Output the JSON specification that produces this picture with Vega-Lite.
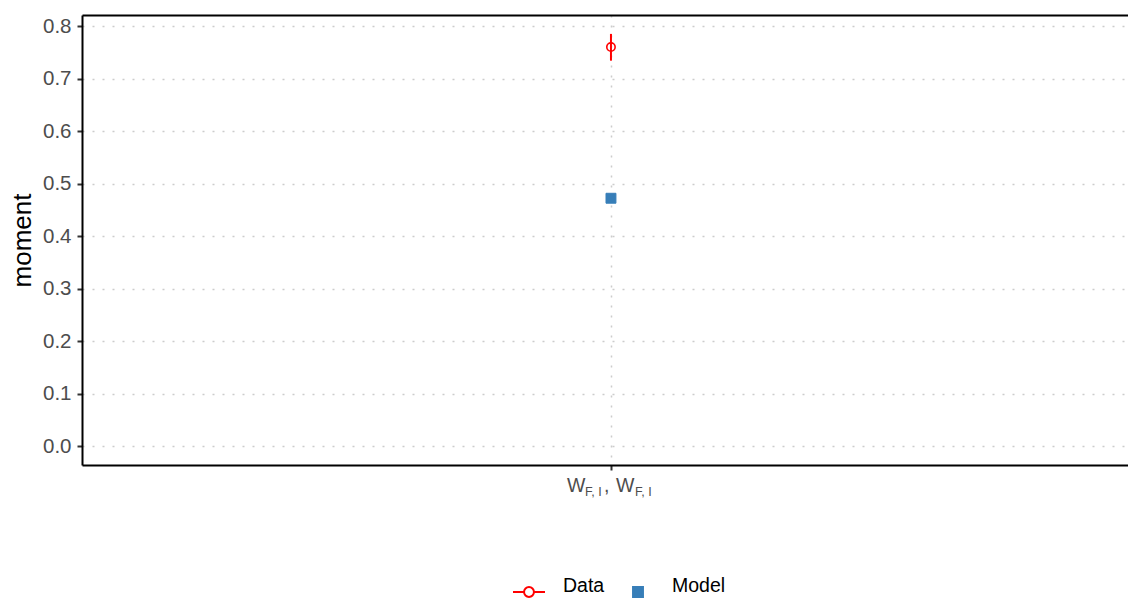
{
  "$schema": "https://vega.github.io/schema/vega-lite/v6.json",
  "width": 1046,
  "height": 450,
  "autosize": {"type": "none"},
  "padding": {"left": 82, "top": 15, "right": 0, "bottom": 136},
  "background": "white",
  "config": {
    "font": "Liberation Sans",
    "view": {"stroke": null},
    "axis": {
      "domainColor": "black",
      "domainWidth": 2,
      "tickColor": "#333333",
      "tickWidth": 2,
      "tickSize": 5,
      "labelFont": "Liberation Sans",
      "labelFontSize": 20.5,
      "labelColor": "#4d4d4d",
      "labelPadding": 6,
      "titleFont": "Liberation Sans",
      "titleFontSize": 26,
      "titleFontWeight": "normal",
      "titleColor": "black",
      "titlePadding": 7,
      "grid": true,
      "gridColor": "#cccccc",
      "gridWidth": 1.5,
      "gridDash": [2, 8]
    },
    "axisTop": {"labels": false, "ticks": false, "grid": false, "title": null}
  },
  "data": {
    "values": [
      {"moment": "W_FI_W_FI", "series": "Data", "value": 0.76, "lo": 0.734, "hi": 0.785},
      {"moment": "W_FI_W_FI", "series": "Model", "value": 0.472}
    ]
  },
  "layer": [
    {
      "encoding": {
        "x": {
          "field": "moment",
          "type": "nominal",
          "scale": {"type": "point", "align": 0.5057},
          "axis": {"orient": "bottom", "labels": false, "title": null}
        }
      },
      "layer": [
        {
          "transform": [{"filter": "datum.series === 'Data'"}],
          "mark": {"type": "rule", "color": "red", "strokeWidth": 2},
          "encoding": {
            "y": {
              "field": "lo",
              "type": "quantitative",
              "scale": {"domain": [-0.036, 0.821], "nice": false, "zero": false},
              "axis": {"title": "moment", "values": [0, 0.1, 0.2, 0.3, 0.4, 0.5, 0.6, 0.7, 0.8], "format": ".1f"}
            },
            "y2": {"field": "hi"}
          }
        },
        {
          "transform": [{"filter": "datum.series === 'Data'"}],
          "mark": {"type": "point", "shape": "circle", "filled": false, "color": "red", "strokeWidth": 1.6, "size": 70, "opacity": 1},
          "encoding": {
            "y": {"field": "value", "type": "quantitative"}
          }
        },
        {
          "transform": [{"filter": "datum.series === 'Model'"}],
          "mark": {"type": "point", "strokeWidth": 1, "size": 1024, "opacity": 1},
          "encoding": {
            "y": {"field": "value", "type": "quantitative"},
            "shape": {
              "field": "series",
              "type": "nominal",
              "scale": {
                "domain": ["Data", "Model"],
                "range": [
                  "M-1,0H-0.31M0.31,0H1M-0.31,0A0.31,0.31 0 1,0 0.31,0A0.31,0.31 0 1,0 -0.31,0",
                  "M-0.31,-0.31H0.31V0.31H-0.31Z"
                ]
              },
              "legend": {
                "title": null,
                "orient": "none",
                "direction": "horizontal",
                "legendX": 430,
                "legendY": 560,
                "symbolSize": 1024,
                "symbolStrokeWidth": 2,
                "labelFont": "Liberation Sans",
                "labelFontSize": 19.5,
                "labelColor": "black",
                "labelBaseline": "alphabetic",
                "labelOffset": 17,
                "columnPadding": 16
              }
            },
            "stroke": {
              "field": "series",
              "type": "nominal",
              "scale": {"domain": ["Data", "Model"], "range": ["red", "#377eb8"]}
            },
            "fill": {
              "field": "series",
              "type": "nominal",
              "scale": {"domain": ["Data", "Model"], "range": ["rgba(255,255,255,0)", "#377eb8"]}
            }
          }
        }
      ]
    },
    {
      "transform": [{"filter": "datum.series === 'Data'"}],
      "encoding": {
        "x": {
          "field": "moment",
          "type": "nominal",
          "scale": {"type": "point", "align": 0.5057},
          "axis": {"orient": "top", "labels": false, "ticks": false, "grid": false, "title": null}
        },
        "y": {
          "datum": 0,
          "type": "quantitative",
          "scale": {"domain": [-0.036, 0.821], "nice": false, "zero": false},
          "axis": {"title": "moment", "values": [0, 0.1, 0.2, 0.3, 0.4, 0.5, 0.6, 0.7, 0.8], "format": ".1f"}
        }
      },
      "layer": [
        {"mark": {"type": "text", "text": "W", "align": "left", "baseline": "alphabetic", "fontSize": 19.5, "color": "#4d4d4d", "dx": -44, "dy": 46}},
        {"mark": {"type": "text", "text": "F, I", "align": "left", "baseline": "alphabetic", "fontSize": 12.5, "color": "#4d4d4d", "dx": -26, "dy": 50}},
        {"mark": {"type": "text", "text": ",", "align": "left", "baseline": "alphabetic", "fontSize": 19.5, "color": "#4d4d4d", "dx": -7, "dy": 46}},
        {"mark": {"type": "text", "text": "W", "align": "left", "baseline": "alphabetic", "fontSize": 19.5, "color": "#4d4d4d", "dx": 5, "dy": 46}},
        {"mark": {"type": "text", "text": "F, I", "align": "left", "baseline": "alphabetic", "fontSize": 12.5, "color": "#4d4d4d", "dx": 24, "dy": 50}}
      ]
    }
  ],
  "resolve": {"axis": {"x": "independent"}}
}
